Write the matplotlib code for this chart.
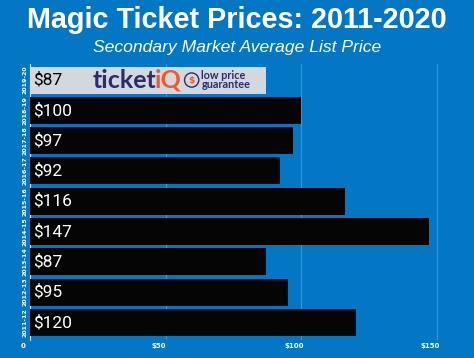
import matplotlib.pyplot as plt
import matplotlib.transforms as mtransforms
import numpy as np

seasons = ['2011-12', '2012-13', '2013-14', '2014-15', '2015-16',
           '2016-17', '2017-18', '2018-19', '2019-20']
prices = [120, 95, 87, 147, 116, 92, 97, 100, 87]
tick_vals = [0, 50, 100, 150]
tick_labels = ['0', '$50', '$100', '$150']

bg = '#0477c4'
navy = '#2e2b6c'
orange = '#f05a28'

fig = plt.figure(figsize=(4.74, 3.58), dpi=100)
fig.patch.set_facecolor(bg)
ax = fig.add_axes([0.0633, 0.0503, 0.9156, 0.771])
ax.set_facecolor(bg)

y = np.arange(len(seasons))
colors = ['#050505'] * (len(seasons) - 1) + ['#d3d7de']
ax.barh(y, prices, height=0.89, color=colors, zorder=3)

for yi, p, c in zip(y, prices, colors):
    tc = 'black' if c != '#050505' else 'white'
    ax.text(1, yi, f'${p}', color=tc, fontsize=12.5, family='Roboto',
            va='center', ha='left', zorder=4)

# ticketiQ logo on the latest season bar
ly = y[-1]
ax.text(23.2, ly, 'ticket', color=navy, fontsize=18, fontweight='bold',
        family='Lato', va='center', ha='left', zorder=4)
ax.text(46.0, ly, 'iQ', color=orange, fontsize=18, fontweight='bold',
        family='Lato', va='center', ha='left', zorder=4)
ax.scatter([59.6], [ly], s=105, facecolor='none', edgecolor=navy,
           linewidth=1.0, zorder=4)
ax.text(59.6, ly, '$', color=orange, fontsize=6.5, fontweight='bold',
        va='center', ha='center', zorder=5)
ax.text(63.2, ly, 'low price\nguarantee', color=navy, fontsize=7.8,
        fontweight='bold', family='Lato', va='center', ha='left',
        linespacing=0.85, zorder=4)

ax.set_xlim(0, 160)
ax.set_ylim(-0.58, 8.53)
ax.set_xticks(tick_vals)
ax.set_xticklabels(tick_labels)
ax.set_yticks(y)
ax.set_yticklabels(seasons, rotation=90, va='center')
ax.tick_params(axis='x', length=0, pad=2.5, labelsize=5, labelcolor='white')
ax.tick_params(axis='y', length=0, pad=2, labelsize=4.5, labelcolor='white')
for lab in ax.get_xticklabels() + ax.get_yticklabels():
    lab.set_fontweight('bold')
# tick labels sit a little left of their grid lines in the original
shift = mtransforms.ScaledTranslation(-0.07, 0, fig.dpi_scale_trans)
for lab in ax.get_xticklabels():
    lab.set_transform(lab.get_transform() + shift)

ax.grid(axis='x', color='#3b93d3', linewidth=0.8, zorder=1)
for s in ['top', 'right', 'bottom']:
    ax.spines[s].set_visible(False)
ax.spines['left'].set_color('#cfe3f3')
ax.spines['left'].set_linewidth(0.8)

fig.text(0.5, 0.944, 'Magic Ticket Prices: 2011-2020', color='white',
         fontsize=20.7, fontweight='bold', family='Liberation Sans',
         ha='center', va='center')
fig.text(0.5, 0.867, 'Secondary Market Average List Price', color='white',
         fontsize=12.6, style='italic', family='Liberation Sans',
         ha='center', va='center')

fig.savefig('out.png', dpi=100, facecolor=bg)
